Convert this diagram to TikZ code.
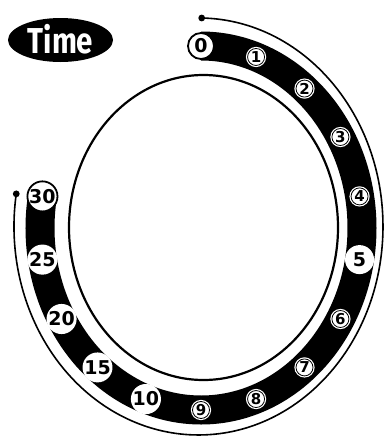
\documentclass[tikz,border=0pt]{standalone}
\usepackage{fontspec}
\setmainfont{DejaVu Sans}
\newfontfamily\timefont{Fira Sans}
\begin{document}
\begin{tikzpicture}[x=1pt,y=-1pt,
  band/.style={line width=29pt, line cap=butt, black},
  rim/.style={line width=2.2pt, black},
  outerline/.style={line width=1.6pt, black},
  smalllab/.style={circle, fill=white, draw=white, double=black, double distance=0.8pt,
    line width=1.2pt, minimum size=17pt, inner sep=0pt,
    font=\bfseries\fontsize{15}{15}\selectfont},
  biglab/.style={circle, fill=white, minimum size=29pt, inner sep=0pt,
    font=\bfseries\fontsize{19}{19}\selectfont},
  endlab/.style={circle, fill=white, draw=black, line width=1.8pt, minimum size=26pt,
    inner sep=0pt, font=\bfseries\fontsize{19}{19}\selectfont},
  timetext/.style={text=white, inner sep=0pt, anchor=base,
    font=\timefont\bfseries\fontsize{36}{36}\selectfont, xscale=0.82}]
\useasboundingbox (0,0) rectangle (390,437);

% Time label
\fill[black] (60.5,40) ellipse [x radius=52.5, y radius=22];
\node[timetext] (time) at (60.5,53.5) {Time};

% inner ellipse
\draw[rim] (203.5,227.5) ellipse [x radius=134.5, y radius=152.5];

% outer line with end dots
\coordinate (od1) at (201.7,18);
\draw[outerline] (od1) arc [start angle=-89, end angle=189, x radius=184.5, y radius=208.5] coordinate (od2);
\fill (od1) circle (3.4);
\fill (od2) circle (3.4);

% band
\draw[band] ([shift={(201,228)}]-90:161 and 182) arc [start angle=-90, end angle=190, x radius=161, y radius=182];

% labels
\foreach \n/\a in {1/-70,2/-50,3/-30,4/-10,6/30,7/50,8/70,9/90}
  \node[smalllab] (n\n) at ([shift={(201,228)}]\a:161 and 182) {\n};
\node[biglab] (n5) at ([shift={(201,228)}]10:161 and 182) {5};
\foreach \n/\a in {10/110,15/130,20/150,25/170}
  \node[biglab] (n\n) at ([shift={(201,228)}]\a:161 and 182) {\n};
\node[endlab] (n0) at ([shift={(201,228)}]-90:161 and 182) {0};
\node[endlab] (n30) at ([shift={(201,228)}]190:161 and 182) {30};
\end{tikzpicture}
\end{document}
